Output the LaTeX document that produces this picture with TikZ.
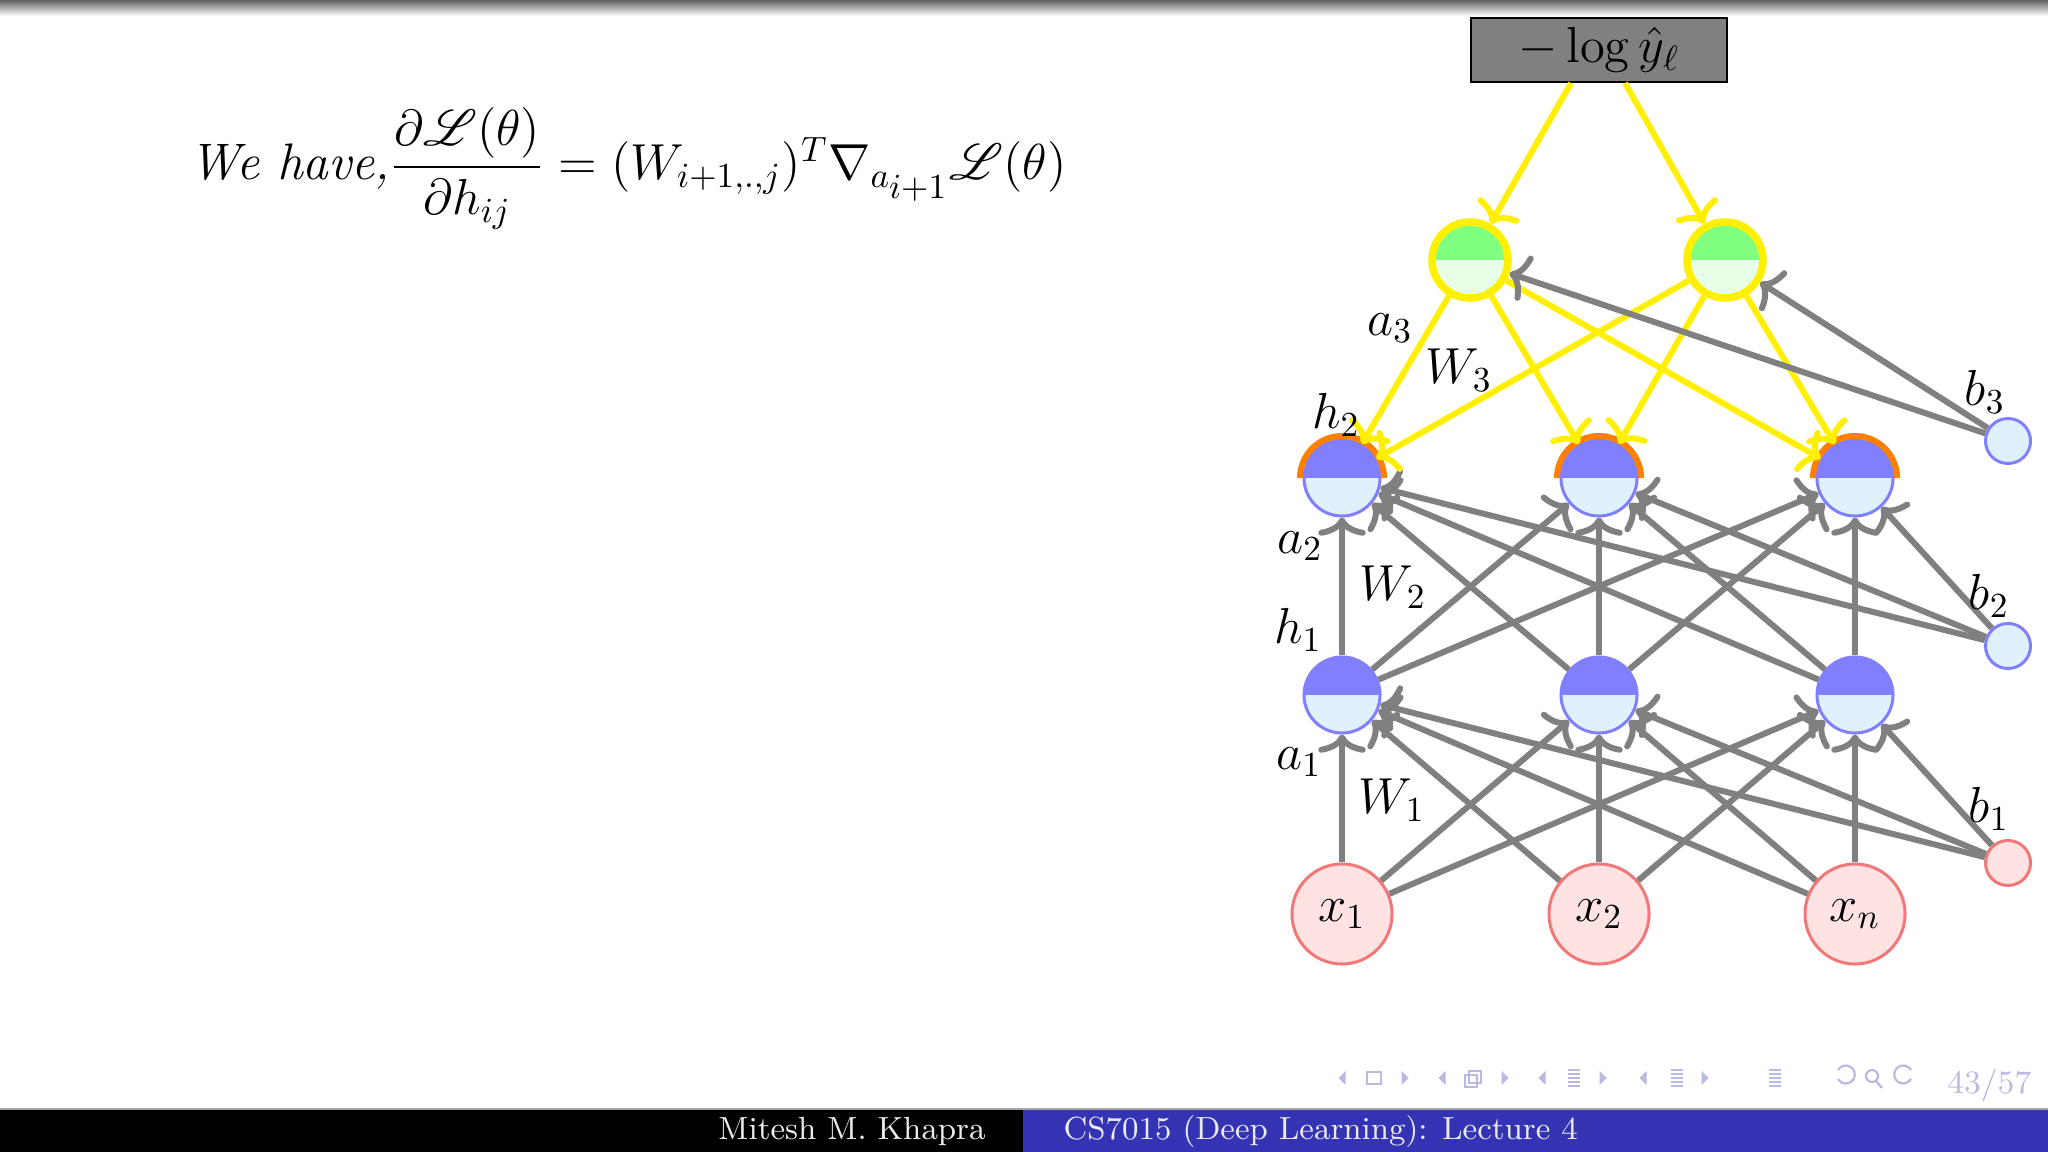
\documentclass[tikz,border=0pt]{standalone}
\usepackage{amsmath}
\usepackage{mathrsfs}
\usetikzlibrary{arrows.meta}
\definecolor{arrgray}{RGB}{128,128,128}
\definecolor{dotgray}{RGB}{200,200,200}
\definecolor{nblue}{RGB}{128,128,255}
\definecolor{lblue}{RGB}{224,241,252}
\definecolor{ngreen}{RGB}{128,255,128}
\definecolor{lgreen}{RGB}{230,255,230}
\definecolor{nyellow}{RGB}{255,240,0}
\definecolor{npink}{RGB}{255,226,226}
\definecolor{nred}{RGB}{240,120,120}
\definecolor{norange}{RGB}{255,128,0}
\definecolor{barblue}{RGB}{51,51,179}
\definecolor{navc}{RGB}{185,185,225}
\definecolor{boxgray}{RGB}{128,128,128}
\pgfdeclarelayer{background}
\pgfsetlayers{background,main}
\tikzset{
  bigfont/.style={font=\fontsize{14.2}{17}\selectfont},
  halfpic/.style 2 args={path picture={
    \fill[#1] (path picture bounding box.west) rectangle (path picture bounding box.north east);
    \fill[#2] (path picture bounding box.west) rectangle (path picture bounding box.south east);}},
  hidnode/.style={circle, minimum size=0.76cm, inner sep=0pt, draw=nblue, line width=0.03cm, halfpic={nblue}{lblue}},
  outnode/.style={circle, minimum size=0.76cm, inner sep=0pt, draw=nyellow, line width=0.075cm, halfpic={ngreen}{lgreen}},
  innode/.style={circle, minimum size=1.0cm, inner sep=0pt, draw=nred, fill=npink, line width=0.03cm, bigfont},
  biasblue/.style={circle, minimum size=0.45cm, inner sep=0pt, draw=nblue, fill=lblue, line width=0.03cm},
  biasred/.style={circle, minimum size=0.45cm, inner sep=0pt, draw=nred, fill=npink, line width=0.03cm},
  lossbox/.style={rectangle, minimum width=2.56cm, minimum height=0.64cm, inner sep=0pt, draw=black, fill=boxgray, line width=0.02cm, bigfont},
  lbl/.style={inner sep=0pt, bigfont},
  garrow/.style={draw=arrgray, line width=0.06cm, -{To[length=5.2pt,width=13.5pt]}},
  yarrow/.style={draw=nyellow, line width=0.06cm, -{To[length=5.2pt,width=13.5pt]}},
  dotline/.style={draw=dotgray, line width=0.08cm, dash pattern=on 0.09cm off 0.178cm},
  orangearc/.style={draw=norange, line width=0.06cm},
  foot/.style={inner sep=0pt, text=white!92!black, font=\fontsize{9.1}{11}\selectfont},
  navtri/.style={fill=navc, draw=none},
  navline/.style={draw=navc, line width=0.022cm}
}
\begin{document}
\begin{tikzpicture}[x=0.01cm,y=-0.01cm]
\useasboundingbox (0,0) rectangle (2048,1152);
\fill[white] (0,0) rectangle (2048,1152);
% top shade
\shade[top color=black!62, bottom color=white] (0,0) rectangle (2048,16);

% equation
\node[inner sep=0pt, anchor=base west, font=\fontsize{14.6}{17}\selectfont] (eq) at (189,180) {\textit{We have,}$\dfrac{\partial\mathscr{L}(\theta)}{\partial h_{ij}}=(W_{i+1,.,j})^{T}\nabla_{a_{\scriptstyle i+1}}\mathscr{L}(\theta)$};

% nodes
\node[lossbox] (box) at (1599,50) {$-\log\hat{y}_{\ell}$};
\node[outnode] (g1) at (1470,260) {};
\node[outnode] (g2) at (1725,260) {};
\node[hidnode] (h2a) at (1342,478) {};
\node[hidnode] (h2b) at (1599,478) {};
\node[hidnode] (h2c) at (1855,478) {};
\node[hidnode] (h1a) at (1342,695) {};
\node[hidnode] (h1b) at (1599,695) {};
\node[hidnode] (h1c) at (1855,695) {};
\node[innode] (x1) at (1342,914) {$x_1$};
\node[innode] (x2) at (1599,914) {$x_2$};
\node[innode] (xn) at (1855,914) {$x_n$};
\node[biasblue] (b3) at (2008,441) {};
\node[biasblue] (b2) at (2008,646) {};
\node[biasred] (b1) at (2008,863) {};

% orange arcs on h2 nodes
\foreach \n in {h2a,h2b,h2c}{
  \draw[orangearc] ([xshift=0.42cm]\n.center) arc[start angle=0, end angle=180, radius=0.42cm];
}

% dotted lines behind nodes
\begin{pgfonlayer}{background}
\draw[dotline] (g1) -- (g2);
\draw[dotline] (h2a) -- (h2c);
\draw[dotline] (h1a) -- (h1c);
\draw[dotline] (x1) -- (xn);
\end{pgfonlayer}

% gray forward arrows
\foreach \s in {x1,x2,xn}{
  \foreach \t in {h1a,h1b,h1c}{
    \draw[garrow] (\s) -- (\t);
  }
}
\foreach \t in {h1a,h1b,h1c}{ \draw[garrow] (b1) -- (\t); }
\foreach \s in {h1a,h1b,h1c}{
  \foreach \t in {h2a,h2b,h2c}{
    \draw[garrow] (\s) -- (\t);
  }
}
\foreach \t in {h2a,h2b,h2c}{ \draw[garrow] (b2) -- (\t); }

% yellow backward arrows
\draw[yarrow] ([xshift=-0.28cm]box.south) -- (g1);
\draw[yarrow] ([xshift=0.26cm]box.south) -- (g2);
\foreach \s in {g1,g2}{
  \foreach \t in {h2a,h2b,h2c}{
    \draw[yarrow] (\s) -- (\t);
  }
}
\draw[garrow] (b3) -- (g1);
\draw[garrow] (b3) -- (g2);

% labels
\node[lbl] (la3) at (1390,328) {$a_3$};
\node[lbl] (lW3) at (1459,370) {$W_3$};
\node[lbl] (lh2) at (1336,415) {$h_2$};
\node[lbl] (la2) at (1300,546) {$a_2$};
\node[lbl] (lW2) at (1393,587) {$W_2$};
\node[lbl] (lh1) at (1298,630) {$h_1$};
\node[lbl] (la1) at (1299,762) {$a_1$};
\node[lbl] (lW1) at (1392,800) {$W_1$};
\node[lbl] (lb3) at (1985,392) {$b_3$};
\node[lbl] (lb2) at (1989,596) {$b_2$};
\node[lbl] (lb1) at (1989,809) {$b_1$};

% navigation symbols
\foreach \lx/\rx in {1342/1405,1442/1505,1542/1603,1643/1705}{
  \fill[navtri] (\lx-3.5,1078) -- (\lx+3.5,1071) -- (\lx+3.5,1085) -- cycle;
  \fill[navtri] (\rx+3.5,1078) -- (\rx-3.5,1071) -- (\rx-3.5,1085) -- cycle;
}
\draw[navline] (1367,1072) rectangle (1381,1084);
\draw[navline] (1465,1075) rectangle (1477,1087);
\draw[navline] (1469,1071) rectangle (1481,1083);
\foreach \cx in {1574,1677,1775}{
  \foreach \dy in {-8,-4,0,4,8}{
    \draw[navline] (\cx-6,1078+\dy) -- (\cx+6,1078+\dy);
  }
}
\draw[navline] (1838,1070) arc[start angle=150, end angle=-150, radius=0.09cm];
\draw[navline] (1872,1076) circle[radius=0.06cm];
\draw[navline] (1876,1081) -- (1882,1088);
\draw[navline] (1911,1070) arc[start angle=30, end angle=330, radius=0.09cm];
\node[inner sep=0pt, anchor=east, text=navc, font=\fontsize{9.3}{11}\selectfont] (pg) at (2032,1085) {43/57};

% footer
\fill[black!35] (0,1108) rectangle (2048,1110);
\fill[black] (0,1110) rectangle (1023,1152);
\fill[barblue] (1023,1110) rectangle (2048,1152);
\node[foot, anchor=base] (auth) at (852,1139) {Mitesh M. Khapra};
\node[foot, anchor=base west] (ttl) at (1063,1139) {CS7015 (Deep Learning): Lecture 4};
\end{tikzpicture}
\end{document}
